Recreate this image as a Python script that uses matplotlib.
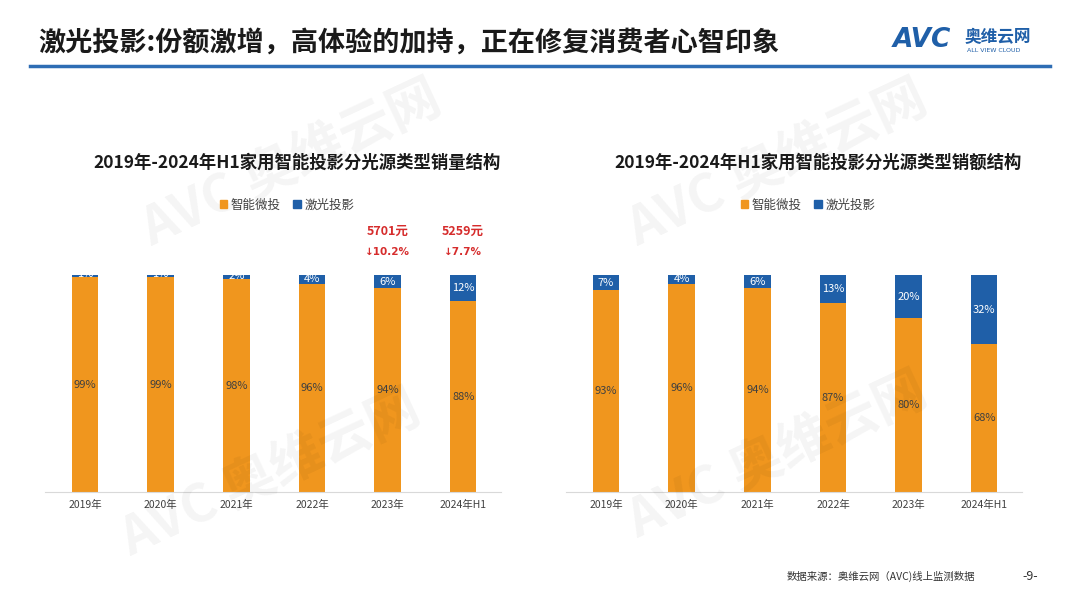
import numpy as np
import matplotlib.pyplot as plt
from matplotlib.lines import Line2D

plt.rcParams['font.family'] = ['Noto Sans CJK SC', 'DejaVu Sans']

# 数据
years = ['2019年', '2020年', '2021年', '2022年', '2023年', '2024年H1']
vol_micro = [99, 99, 98, 96, 94, 88]
vol_laser = [1, 1, 2, 4, 6, 12]
amt_micro = [93, 96, 94, 87, 80, 68]
amt_laser = [7, 4, 6, 13, 20, 32]
price_notes = {4: ('5701元', '↓10.2%'), 5: ('5259元', '↓7.7%')}

ORANGE = '#F0961E'
BLUE = '#1F5FA8'

fig = plt.figure(figsize=(10.8, 6.08), dpi=100)
fig.patch.set_facecolor('white')

# 页面标题
fig.text(38 / 1080, 1 - 43 / 608, '激光投影:份额激增，高体验的加持，正在修复消费者心智印象',
         fontsize=19.5, fontweight='bold', color='#1a1a1a', va='center', ha='left')
fig.add_artist(Line2D([30 / 1080, 1050 / 1080], [1 - 66 / 608] * 2, color='#2E6DB4', lw=2.5))

# 右上角 logo
fig.text(893 / 1080, 1 - 40 / 608, 'AVC', fontsize=19, fontweight='bold', fontstyle='italic',
         color='#1F5FA8', va='center', ha='left', family=['DejaVu Sans'])
fig.text(965 / 1080, 1 - 37 / 608, '奥维云网', fontsize=12, fontweight='bold',
         color='#1F5FA8', va='center', ha='left')
fig.text(967 / 1080, 1 - 50 / 608, 'ALL VIEW CLOUD', fontsize=4.5,
         color='#1F5FA8', va='center', ha='left', family=['DejaVu Sans'])

# 水印
for (wx, wy) in [(0.27, 0.73), (0.72, 0.73), (0.25, 0.22), (0.72, 0.25)]:
    fig.text(wx, wy, 'AVC 奥维云网', fontsize=38, fontweight='bold', color='#000000',
             alpha=0.045, rotation=25, ha='center', va='center')


def draw(left_px, micro, laser, title, notes=None):
    ax = fig.add_axes([left_px / 1080, 116 / 608, 456 / 1080, 217 / 608])
    x = np.arange(len(years))
    ax.bar(x, micro, width=0.35, color=ORANGE)
    ax.bar(x, laser, bottom=micro, width=0.35, color=BLUE)
    for i in range(len(years)):
        ax.text(x[i], micro[i] / 2, f'{micro[i]}%', ha='center', va='center',
                fontsize=8, color='#404040')
        ax.text(x[i], micro[i] + max(laser[i], 3) / 2, f'{laser[i]}%', ha='center',
                va='center', fontsize=8, color='white')
    ax.set_xlim(-0.53, 5.5)
    ax.set_ylim(0, 100)
    ax.set_xticks(x)
    ax.set_xticklabels(years, fontsize=7.5, color='#404040')
    ax.tick_params(axis='x', length=0, pad=6)
    ax.set_yticks([])
    for s in ['top', 'right', 'left']:
        ax.spines[s].set_visible(False)
    ax.spines['bottom'].set_color('#d9d9d9')
    ax.set_facecolor('none')
    cx = (left_px + 228) / 1080
    fig.text(cx + 24 / 1080, 1 - 163 / 608, title, fontsize=12.5, fontweight='bold',
             color='#1a1a1a', ha='center', va='center')
    h = [plt.Rectangle((0, 0), 1, 1, color=ORANGE), plt.Rectangle((0, 0), 1, 1, color=BLUE)]
    fig.legend(h, ['智能微投', '激光投影'], loc='center', bbox_to_anchor=(cx + 14 / 1080, 1 - 205 / 608),
               ncol=2, frameon=False, fontsize=9, handlelength=0.6, handleheight=0.6,
               handletextpad=0.3, columnspacing=1.0, labelcolor='#404040')
    if notes:
        for i, (p, c) in notes.items():
            ax.text(x[i], 120, p, ha='center', va='center', fontsize=9, fontweight='bold',
                    color='#D62C2C', clip_on=False)
            ax.text(x[i], 110.5, c, ha='center', va='center', fontsize=7.5, fontweight='bold',
                    color='#D62C2C', clip_on=False, family=['DejaVu Sans'])
    return ax


draw(45, vol_micro, vol_laser, '2019年-2024年H1家用智能投影分光源类型销量结构', price_notes)
draw(566, amt_micro, amt_laser, '2019年-2024年H1家用智能投影分光源类型销额结构')

# 页脚
fig.text(975 / 1080, 1 - 576 / 608, '数据来源：奥维云网（AVC)线上监测数据', fontsize=7.5,
         color='#333333', ha='right', va='center')
fig.text(1030 / 1080, 1 - 576 / 608, '-9-', fontsize=9, color='#333333', ha='center', va='center')

fig.savefig('out.png', dpi=100)
